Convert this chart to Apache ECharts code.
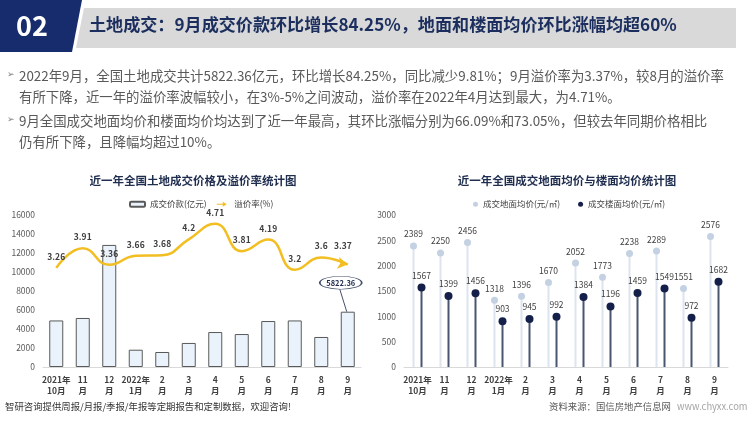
<!DOCTYPE html>
<html><head><meta charset="utf-8">
<script src="https://cdn.jsdelivr.net/npm/echarts@6/dist/echarts.min.js"></script>
<style>html,body{margin:0;padding:0;background:#fff}#c{width:750px;height:422px}</style>
</head><body><div id="c"></div>
<script>
const categories = ['2021年\n10月','11\n月','12\n月','2022年\n1月','2\n月','3\n月','4\n月','5\n月','6\n月','7\n月','8\n月','9\n月'];
const dealAmount = [4900, 5160, 12850, 1820, 1580, 2530, 3680, 3470, 4840, 4900, 3160, 5822.36];
const premiumRate = [3.26, 3.91, 3.36, 3.66, 3.68, 4.2, 4.71, 3.81, 4.19, 3.2, 3.6, 3.37];
const landPrice = [2389, 2250, 2456, 1318, 1396, 1670, 2052, 1773, 2238, 2289, 1551, 2576];
const floorPrice = [1567, 1399, 1456, 903, 945, 992, 1384, 1196, 1459, 1549, 972, 1682];
const leftTicks = [0, 2000, 4000, 6000, 8000, 10000, 12000, 14000, 16000];
const rightTicks = [0, 500, 1000, 1500, 2000, 2500, 3000];

const FONT = '"Noto Sans CJK SC", "Noto Sans", sans-serif';
const chart = echarts.init(document.getElementById('c'), null, {renderer: 'canvas'});

const xLabel = {fontSize: 8.5, fontWeight: 'bold', color: '#404040', lineHeight: 11, margin: 7, interval: 0, fontFamily: FONT};
const yLabel = {fontSize: 8.5, color: '#595959', margin: 8, fontFamily: FONT, formatter: v => String(v)};
const lastIdx = premiumRate.length - 1;

const option = {
  animation: false,
  textStyle: {fontFamily: FONT},
  title: [
    {text: '近一年全国土地成交价格及溢价率统计图', left: 188, top: 170, textAlign: 'center',
     textStyle: {fontSize: 11.5, fontWeight: 'bold', color: '#1F2D4E', fontFamily: FONT}},
    {text: '近一年全国成交地面均价与楼面均价统计图', left: 562, top: 170, textAlign: 'center',
     textStyle: {fontSize: 11.5, fontWeight: 'bold', color: '#1F2D4E', fontFamily: FONT}}
  ],
  legend: [
    {data: [{name: '成交价款(亿元)', icon: 'roundRect'}, {name: '溢价率(%)', icon: 'path://M0,4 L12,4 L12,0 L20,5 L12,10 L12,6 L0,6 Z'}],
     left: 124, top: 195, itemWidth: 15, itemHeight: 5, itemGap: 10,
     textStyle: {fontSize: 8.5, color: '#404040', fontFamily: FONT}},
    {data: ['成交地面均价(元/㎡)', '成交楼面均价(元/㎡)'],
     left: 468, top: 195, itemWidth: 5, itemHeight: 5, itemGap: 18,
     textStyle: {fontSize: 8.5, color: '#404040', fontFamily: FONT}}
  ],
  grid: [
    {left: 43, right: 389, top: 215, bottom: 55},
    {left: 404, right: 22, top: 215, bottom: 55}
  ],
  xAxis: [
    {type: 'category', gridIndex: 0, data: categories, axisTick: {show: false},
     axisLine: {lineStyle: {color: '#D9D9D9'}}, axisLabel: xLabel},
    {type: 'category', gridIndex: 1, data: categories, axisTick: {show: false},
     axisLine: {lineStyle: {color: '#D9D9D9'}}, axisLabel: xLabel}
  ],
  yAxis: [
    {type: 'value', gridIndex: 0, min: leftTicks[0], max: leftTicks[leftTicks.length-1], interval: 2000,
     splitLine: {show: false}, axisLine: {show: false}, axisLabel: yLabel},
    {type: 'value', gridIndex: 0, min: 0, max: 5, show: false, splitLine: {show: false}},
    {type: 'value', gridIndex: 1, min: rightTicks[0], max: rightTicks[rightTicks.length-1], interval: 500,
     splitLine: {show: false}, axisLine: {show: false}, axisLabel: yLabel}
  ],
  series: [
    {name: '成交价款(亿元)', type: 'bar', xAxisIndex: 0, yAxisIndex: 0, data: dealAmount, barWidth: 14,
     itemStyle: {color: '#EAF3FC', borderColor: '#595959', borderWidth: 1},
     markPoint: {
       symbol: 'circle', symbolSize: [42, 13], symbolOffset: [-7, -29],
       itemStyle: {color: '#fff', borderColor: '#44506A', borderWidth: 1},
       label: {show: true, formatter: '5822.36', fontSize: 7.5, fontWeight: 'bold', color: '#1F2D4E', fontFamily: FONT},
       data: [{coord: [11, dealAmount[11]], value: dealAmount[11]}]
     }},
    {name: '溢价率(%)', type: 'line', xAxisIndex: 0, yAxisIndex: 1, data: premiumRate, smooth: 0.5,
     symbol: function (v, p) { return p.dataIndex === lastIdx ? 'arrow' : 'circle'; },
     symbolSize: function (v, p) { return p.dataIndex === lastIdx ? [9, 10] : 0.1; },
     symbolRotate: -100, showAllSymbol: true,
     lineStyle: {color: '#F2BE22', width: 2.5}, itemStyle: {color: '#F2BE22'},
     label: {show: true, position: 'top', distance: 7, fontSize: 8.5, fontWeight: 'bold', color: '#404040', fontFamily: FONT}},
    {name: 'landStem', type: 'bar', xAxisIndex: 1, yAxisIndex: 2, data: landPrice, barWidth: 2, barGap: '300%',
     itemStyle: {color: '#DCE4EE'}, silent: true, z: 1},
    {name: 'floorStem', type: 'bar', xAxisIndex: 1, yAxisIndex: 2, data: floorPrice, barWidth: 2, barGap: '300%',
     itemStyle: {color: '#4A5570'}, silent: true, z: 1},
    {name: '成交地面均价(元/㎡)', type: 'scatter', xAxisIndex: 1, yAxisIndex: 2, data: landPrice,
     symbolSize: 7, symbolOffset: [-4, 0], itemStyle: {color: '#C3D1E2', opacity: 1}, z: 3,
     label: {show: true, position: 'top', distance: 4, fontSize: 8.5, color: '#404040', fontFamily: FONT}},
    {name: '成交楼面均价(元/㎡)', type: 'scatter', xAxisIndex: 1, yAxisIndex: 2, data: floorPrice,
     symbolSize: 8, symbolOffset: [4, 0], itemStyle: {color: '#14204A', opacity: 1}, z: 3,
     label: {show: true, position: 'top', distance: 4, fontSize: 8.5, color: '#404040', fontFamily: FONT}}
  ],
  graphic: [
    {type: 'polygon', shape: {points: [[84, 8], [736, 8], [736, 48], [76, 48]]}, style: {fill: '#D9D9D9'}},
    {type: 'polygon', shape: {points: [[0, 0], [82, 0], [72, 52], [0, 52]]}, style: {fill: '#172C6C'}},
    {type: 'text', left: 16, top: 12, style: {text: '02', fill: '#fff', font: 'bold 27px ' + FONT}},
    {type: 'text', left: 89, top: 16, style: {text: '土地成交：9月成交价款环比增长84.25%，地面和楼面均价环比涨幅均超60%', fill: '#1B2E5E', font: 'bold 17.1px ' + FONT}},
    {type: 'text', left: 7, top: 69, style: {text: '➢', fill: '#7F7F7F', font: '9px ' + FONT}},
    {type: 'text', left: 19, top: 65, style: {text: '2022年9月，全国土地成交共计5822.36亿元，环比增长84.25%，同比减少9.81%；9月溢价率为3.37%，较8月的溢价率\n有所下降，近一年的溢价率波幅较小，在3%-5%之间波动，溢价率在2022年4月达到最大，为4.71%。', fill: '#595959', font: '13.4px ' + FONT, lineHeight: 21}},
    {type: 'text', left: 7, top: 114, style: {text: '➢', fill: '#7F7F7F', font: '9px ' + FONT}},
    {type: 'text', left: 19, top: 110, style: {text: '9月全国成交地面均价和楼面均价均达到了近一年最高，其环比涨幅分别为66.09%和73.05%，但较去年同期价格相比\n仍有所下降，且降幅均超过10%。', fill: '#595959', font: '13.4px ' + FONT, lineHeight: 21}},
    {type: 'text', left: 5, top: 402, style: {text: '智研咨询提供周报/月报/季报/年报等定期报告和定制数据，欢迎咨询!', fill: '#333333', font: '9.4px ' + FONT}},
    {type: 'text', left: 549, top: 402, style: {text: '资料来源：国信房地产信息网', fill: '#595959', font: '9.4px ' + FONT}},
    {type: 'text', left: 677, top: 402, style: {text: 'www.chyxx.com', fill: '#A6A6A6', font: '9.4px ' + FONT}}
  ]
};
chart.setOption(option);

// leader line from the 9月 annotation ellipse down to the bar top
const top9 = chart.convertToPixel({seriesIndex: 0}, [11, dealAmount[11]]);
chart.setOption({graphic: option.graphic.concat([
  {type: 'line', shape: {x1: top9[0] - 8, y1: top9[1] - 22.5, x2: top9[0] - 1, y2: top9[1]},
   style: {stroke: '#44506A', lineWidth: 1}, z: 10}
])});
</script></body></html>
